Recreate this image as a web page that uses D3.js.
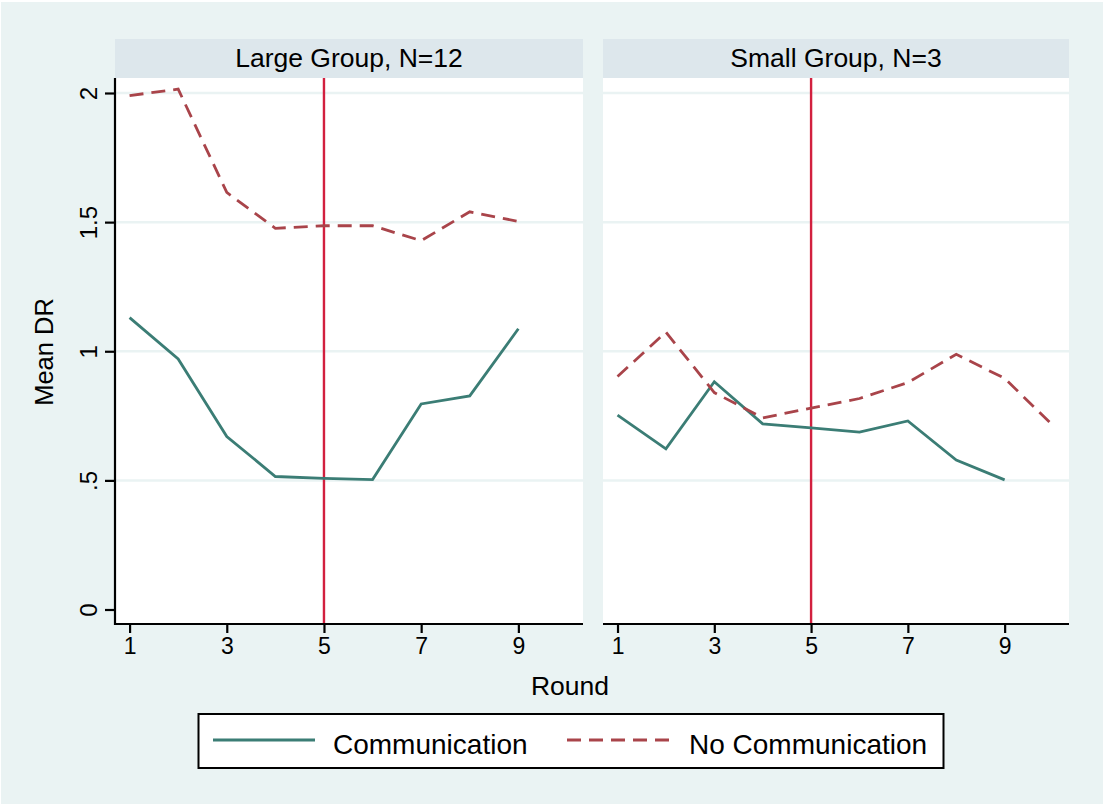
<!DOCTYPE html>
<html>
<head>
<meta charset="utf-8">
<script src="https://cdn.jsdelivr.net/npm/d3@7"></script>
<style>
  html, body { margin: 0; padding: 0; background: #ffffff; }
  svg { display: block; font-family: "Liberation Sans", Arial, Helvetica, sans-serif; }
</style>
</head>
<body>
<svg id="chart" width="1103" height="804"></svg>
<script>
// Mean DR by round, by group size and communication treatment
const panelTitles = ["Large Group, N=12", "Small Group, N=3"];
const seriesNames = ["Communication", "No Communication"];

const largeRounds = [1, 2, 3, 4, 5, 6, 7, 8, 9];
const largeComm = [1.13, 0.97, 0.67, 0.515, 0.508, 0.503, 0.796, 0.827, 1.087];
const largeNoCommRounds = [1, 2, 3, 4, 5, 6, 7, 8, 9];
const largeNoComm = [1.99, 2.015, 1.615, 1.476, 1.486, 1.486, 1.428, 1.54, 1.503];

const smallRounds = [1, 2, 3, 4, 5, 6, 7, 8, 9];
const smallComm = [0.753, 0.622, 0.882, 0.719, 0.703, 0.687, 0.73, 0.579, 0.502];
const smallNoCommRounds = [1, 2, 3, 4, 5, 6, 7, 8, 9, 10];
const smallNoComm = [0.902, 1.074, 0.84, 0.742, 0.78, 0.817, 0.879, 0.988, 0.895, 0.712];

const xTicks = [1, 3, 5, 7, 9];
const yTicks = [0, 0.5, 1, 1.5, 2];
const yTickLabels = ["0", ".5", "1", "1.5", "2"];
const gridValues = [0.5, 1, 1.5, 2];
const treatmentRound = 5;

const colors = { comm: "#3b7d75", noComm: "#a9444a", refLine: "#d2203f",
                 bg: "#eaf3f3", strip: "#dde7ec", grid: "#eaf3f3" };

const svg = d3.select("#chart");
svg.append("rect").attr("x", 1).attr("y", 2).attr("width", 1102).attr("height", 802)
  .attr("fill", colors.bg);

const plotTop = 78, plotBottom = 624, stripTop = 39;
const panels = [
  { x0: 115, x1: 583, title: panelTitles[0],
    comm: largeRounds.map((r, i) => [r, largeComm[i]]),
    noComm: largeNoCommRounds.map((r, i) => [r, largeNoComm[i]]) },
  { x0: 603, x1: 1069, title: panelTitles[1],
    comm: smallRounds.map((r, i) => [r, smallComm[i]]),
    noComm: smallNoCommRounds.map((r, i) => [r, smallNoComm[i]]) }
];

const y = d3.scaleLinear().domain([0, 2]).range([609.5, 93]);

panels.forEach((p, pi) => {
  const x = d3.scaleLinear().domain([0.70, 10.33]).range([p.x0, p.x1]);
  const g = svg.append("g");

  // header strip
  g.append("rect").attr("x", p.x0).attr("y", stripTop)
    .attr("width", p.x1 - p.x0).attr("height", plotTop - stripTop).attr("fill", colors.strip);
  g.append("text").attr("x", (p.x0 + p.x1) / 2).attr("y", 67)
    .attr("text-anchor", "middle").attr("font-size", 26.5).attr("fill", "#000")
    .text(p.title);

  // plot area
  g.append("rect").attr("x", p.x0).attr("y", plotTop)
    .attr("width", p.x1 - p.x0).attr("height", plotBottom - plotTop).attr("fill", "#fff");

  // horizontal grid
  g.selectAll(".grid").data(gridValues).join("line")
    .attr("x1", p.x0).attr("x2", p.x1)
    .attr("y1", d => y(d)).attr("y2", d => y(d))
    .attr("stroke", colors.grid).attr("stroke-width", 2.5);

  // treatment change reference line
  g.append("line").attr("x1", x(treatmentRound)).attr("x2", x(treatmentRound))
    .attr("y1", plotTop).attr("y2", plotBottom)
    .attr("stroke", colors.refLine).attr("stroke-width", 2.4);

  const line = d3.line().x(d => x(d[0])).y(d => y(d[1]));
  g.append("path").attr("d", line(p.comm)).attr("fill", "none")
    .attr("stroke", colors.comm).attr("stroke-width", 2.8).attr("stroke-linejoin", "miter");
  g.append("path").attr("d", line(p.noComm)).attr("fill", "none")
    .attr("stroke", colors.noComm).attr("stroke-width", 2.8)
    .attr("stroke-dasharray", "14,8");

  // x axis
  const xAxis = d3.axisBottom(x).tickValues(xTicks).tickSize(9).tickPadding(5).tickFormat(d3.format("d"));
  const xa = g.append("g").attr("transform", `translate(0,${plotBottom})`).call(xAxis);
  xa.select(".domain").attr("d", `M${p.x0},0H${p.x1}`).attr("stroke", "#000").attr("stroke-width", 2.2);
  xa.selectAll(".tick line").attr("stroke", "#000").attr("stroke-width", 2.2);
  xa.selectAll(".tick text").attr("font-size", 23).attr("fill", "#000")
    .attr("font-family", "Liberation Sans, Arial, sans-serif");

  // y axis on the first panel only
  if (pi === 0) {
    const yAxis = d3.axisLeft(y).tickValues(yTicks).tickSize(10).tickPadding(8)
      .tickFormat((d, i) => yTickLabels[i]);
    const ya = g.append("g").attr("transform", `translate(${p.x0},0)`).call(yAxis);
    ya.select(".domain").attr("d", `M0,${plotTop}V${plotBottom + 1}`).attr("stroke", "#000").attr("stroke-width", 2.2);
    ya.selectAll(".tick line").attr("stroke", "#000").attr("stroke-width", 2.2);
    ya.selectAll(".tick text")
      .attr("font-size", 24).attr("fill", "#000")
      .attr("font-family", "Liberation Sans, Arial, sans-serif")
      .attr("x", null).attr("dy", null)
      .attr("text-anchor", "middle")
      .attr("transform", "translate(-18,0) rotate(-90)")
      .attr("y", 0).attr("dy", "0em");
  }
});

// axis titles
svg.append("text").attr("x", 570).attr("y", 695).attr("text-anchor", "middle")
  .attr("font-size", 26.5).attr("fill", "#000").text("Round");
svg.append("text").attr("transform", "translate(53,352) rotate(-90)").attr("text-anchor", "middle")
  .attr("font-size", 25.5).attr("fill", "#000").text("Mean DR");

// legend
const lg = svg.append("g");
lg.append("rect").attr("x", 198.5).attr("y", 714).attr("width", 745).attr("height", 54)
  .attr("fill", "#fff").attr("stroke", "#000").attr("stroke-width", 2);
const legendItems = [
  { name: seriesNames[0], color: colors.comm, dash: null, x0: 213, x1: 315, tx: 333 },
  { name: seriesNames[1], color: colors.noComm, dash: "14,8", x0: 567, x1: 672, tx: 689 }
];
legendItems.forEach(it => {
  lg.append("line").attr("x1", it.x0).attr("x2", it.x1).attr("y1", 740).attr("y2", 740)
    .attr("stroke", it.color).attr("stroke-width", 2.8)
    .attr("stroke-dasharray", it.dash);
  lg.append("text").attr("x", it.tx).attr("y", 754).attr("font-size", 28).attr("fill", "#000")
    .text(it.name);
});
</script>
</body>
</html>
